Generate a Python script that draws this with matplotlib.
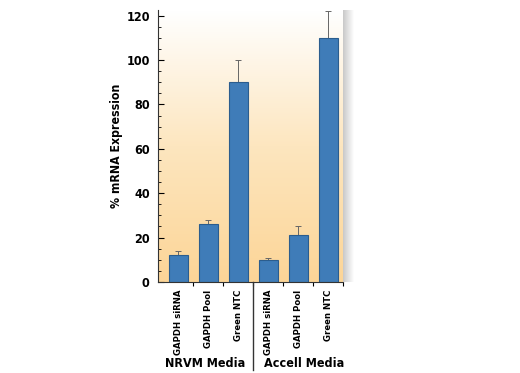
import numpy as np
import matplotlib
matplotlib.use("Agg")
import matplotlib.pyplot as plt
from matplotlib.colors import LinearSegmentedColormap

plt.rcParams['font.family'] = ['DejaVu Sans']
plt.rcParams['font.weight'] = 'bold'
plt.rcParams['font.stretch'] = 'condensed'

# datos
categorias = ['GAPDH siRNA', 'GAPDH Pool', 'Green NTC',
              'GAPDH siRNA', 'GAPDH Pool', 'Green NTC']
grupos = ['NRVM Media', 'Accell Media']
valores = [12, 26, 90, 10, 21, 110]
errores = [2, 2, 10, 1, 4, 12]

x = np.arange(len(valores))

fig = plt.figure(figsize=(5.2, 3.73), dpi=100)
ax = fig.add_axes([0.304, 0.244, 0.356, 0.729])

# fondo degradado blanco -> naranja
cmap = LinearSegmentedColormap.from_list('fondo', ['#fcd597', '#fde6bf', '#ffffff'])
grad = np.linspace(0, 1, 256).reshape(-1, 1)
ax.imshow(grad, aspect='auto', cmap=cmap, origin='lower',
          extent=[-0.67, 5.5, 0, 122.5], zorder=0)

# sombra a la derecha
sh = fig.add_axes([0.660, 0.244, 0.02, 0.729])
sgrad = np.linspace(0, 1, 64).reshape(1, -1)
scmap = LinearSegmentedColormap.from_list('sombra', ['#c8c8c8', '#ffffff'])
sh.imshow(sgrad, aspect='auto', cmap=scmap)
sh.axis('off')

ax.bar(x, valores, width=0.64, color='#3f7cb8', edgecolor='#2b5d8e',
       linewidth=0.8, zorder=2)
ax.errorbar(x, valores, yerr=[np.zeros(len(errores)), errores], fmt='none',
            ecolor='#666666', elinewidth=0.7, capsize=2, capthick=0.7, zorder=1)

ax.set_xlim(-0.67, 5.5)
ax.set_ylim(0, 122.5)
ax.set_yticks([0, 20, 40, 60, 80, 100, 120])
ax.set_yticks(np.arange(0, 121, 5), minor=True)
ax.tick_params(axis='y', which='major', direction='in', length=4, width=0.8,
               labelsize=9, pad=6)
ax.tick_params(axis='y', which='minor', direction='in', length=2, width=0.6)
ax.set_xticks([0.5, 1.5, 2.5, 3.5, 4.5, 5.5])
ax.set_xticklabels([])
ax.tick_params(axis='x', which='major', direction='out', length=3, width=0.8)

for s in ['top', 'right']:
    ax.spines[s].set_visible(False)
ax.spines['left'].set_color('#333333')
ax.spines['bottom'].set_color('#333333')

ax.set_ylabel('% mRNA Expression', fontsize=8.8, fontweight='bold', labelpad=2)

# etiquetas de categorias
for xi, cat in zip(x, categorias):
    ax.text(xi, -3.5, cat, rotation=90, ha='center', va='top', fontsize=6.8,
            fontweight='bold')

ax.text(0.9, -36.5, grupos[0], ha='center', va='center', fontsize=9, fontweight='bold')
ax.text(4.2, -36.5, grupos[1], ha='center', va='center', fontsize=9, fontweight='bold')

# linea separadora
ax.plot([2.5, 2.5], [0, -39.5], color='#333333', linewidth=1.0, clip_on=False)

plt.savefig('out.png', dpi=100)
